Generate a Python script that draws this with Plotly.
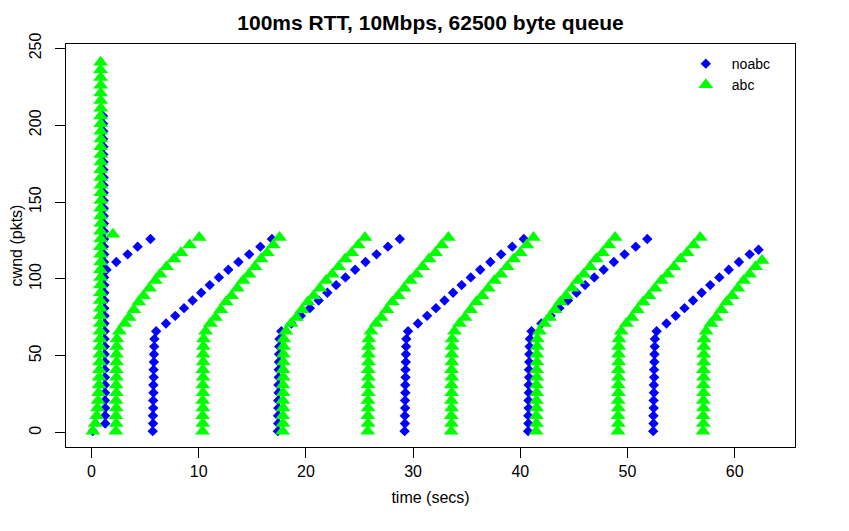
import plotly.graph_objects as go

# ── data: time (s) vs cwnd (pkts) ───────────────────────────────────────────
# noabc (blue diamonds)
noabc_time = [
    # initial slow start
    0.12, 1.28, 1.27, 1.28, 1.26, 1.27, 1.25, 1.26, 1.24, 1.25, 1.23, 1.24, 1.22, 1.23,
    1.21, 1.22, 1.2, 1.21, 1.19, 1.2, 1.18, 1.19, 1.17, 1.18, 1.16, 1.17, 1.15, 1.16,
    1.14, 1.15, 1.13, 1.14, 1.12, 1.13, 1.11, 1.12, 1.1, 1.11, 1.09, 1.1, 1.08, 1.07,
    # after first loss
    1.4, 2.31, 3.37, 4.3, 5.5,
    # cycle 1
    5.71, 5.74, 5.73, 5.76, 5.75, 5.78, 5.77, 5.8, 5.79, 5.82, 5.83, 5.85, 5.87,
    6.03, 6.95, 7.81, 8.63, 9.43, 10.23, 11.03, 11.88, 12.76, 13.71, 14.71, 15.75, 16.83,
    # cycle 2
    17.38, 17.41, 17.4, 17.43, 17.42, 17.45, 17.44, 17.47, 17.46, 17.49, 17.5, 17.52, 17.54,
    17.71, 18.65, 19.53, 20.37, 21.19, 22.0, 22.82, 23.69, 24.59, 25.56, 26.59, 27.65, 28.76,
    # cycle 3
    29.21, 29.24, 29.23, 29.26, 29.25, 29.28, 29.27, 29.3, 29.29, 29.32, 29.33, 29.35, 29.37,
    29.53, 30.45, 31.31, 32.13, 32.93, 33.73, 34.53, 35.38, 36.26, 37.21, 38.21, 39.25, 40.33,
    # cycle 4
    40.73, 40.76, 40.75, 40.78, 40.77, 40.8, 40.79, 40.82, 40.81, 40.84, 40.85, 40.87, 40.89,
    41.05, 41.97, 42.83, 43.65, 44.45, 45.25, 46.05, 46.9, 47.78, 48.73, 49.73, 50.77, 51.85,
    # cycle 5
    52.4, 52.43, 52.42, 52.45, 52.44, 52.47, 52.46, 52.49, 52.48, 52.51, 52.52, 52.54, 52.56,
    52.72, 53.64, 54.5, 55.32, 56.12, 56.92, 57.72, 58.57, 59.45, 60.4, 61.4, 62.23,
]
noabc_cwnd = [
    1, 6, 11, 16, 21, 26, 31, 36, 41, 46, 51, 56, 61, 66,
    71, 76, 81, 86, 91, 96, 101, 106, 111, 116, 121, 126, 131, 136,
    141, 146, 151, 156, 161, 166, 171, 176, 181, 186, 191, 196, 201, 206,
    106, 111, 116, 121, 126,
    1, 6, 11, 16, 21, 26, 31, 36, 41, 46, 51, 56, 61,
    66, 71, 76, 81, 86, 91, 96, 101, 106, 111, 116, 121, 126,
    1, 6, 11, 16, 21, 26, 31, 36, 41, 46, 51, 56, 61,
    66, 71, 76, 81, 86, 91, 96, 101, 106, 111, 116, 121, 126,
    1, 6, 11, 16, 21, 26, 31, 36, 41, 46, 51, 56, 61,
    66, 71, 76, 81, 86, 91, 96, 101, 106, 111, 116, 121, 126,
    1, 6, 11, 16, 21, 26, 31, 36, 41, 46, 51, 56, 61,
    66, 71, 76, 81, 86, 91, 96, 101, 106, 111, 116, 121, 126,
    1, 6, 11, 16, 21, 26, 31, 36, 41, 46, 51, 56, 61,
    66, 71, 76, 81, 86, 91, 96, 101, 106, 111, 116, 119,
]

# abc (green triangles)
abc_time = [
    # initial slow start
    0.12, 0.35, 0.48, 0.56, 0.62, 0.66, 0.7, 0.72, 0.74, 0.76, 0.78, 0.79, 0.8,
    0.8, 0.82, 0.81, 0.83, 0.82, 0.84, 0.83, 0.85, 0.84, 0.86,
    0.85, 0.84, 0.86, 0.85, 0.87, 0.86, 0.85, 0.87, 0.86, 0.88,
    0.87, 0.86, 0.88, 0.87, 0.86, 0.88, 0.87, 0.86, 0.85, 0.87,
    0.86, 0.85, 0.86, 0.85, 0.84, 0.85,
    1.99,
    # cycle 1
    2.27, 2.3, 2.28, 2.31, 2.29, 2.32, 2.3, 2.33, 2.31, 2.34, 2.33, 2.35, 2.37,
    2.6, 3.1, 3.5, 3.95, 4.4, 4.85, 5.4, 5.95, 6.4, 7.0, 7.7, 8.35, 9.15, 10.05,
    # cycle 2
    10.35, 10.38, 10.36, 10.39, 10.37, 10.4, 10.38, 10.41, 10.39, 10.42, 10.41, 10.43, 10.45,
    10.64, 11.09, 11.56, 12.05, 12.55, 13.07, 13.6, 14.14, 14.69, 15.25, 15.82, 16.39, 16.96, 17.54,
    # cycle 3
    17.83, 17.86, 17.84, 17.87, 17.85, 17.88, 17.86, 17.89, 17.87, 17.9, 17.89, 17.91, 17.93,
    18.14, 18.62, 19.12, 19.64, 20.18, 20.73, 21.3, 21.88, 22.46, 23.06, 23.67, 24.28, 24.89, 25.51,
    # cycle 4
    25.77, 25.8, 25.78, 25.81, 25.79, 25.82, 25.8, 25.83, 25.81, 25.84, 25.83, 25.85, 25.87,
    26.07, 26.54, 27.03, 27.55, 28.07, 28.61, 29.17, 29.73, 30.31, 30.89, 31.49, 32.09, 32.68, 33.29,
    # cycle 5
    33.55, 33.58, 33.56, 33.59, 33.57, 33.6, 33.58, 33.61, 33.59, 33.62, 33.61, 33.63, 33.65,
    33.86, 34.34, 34.84, 35.36, 35.9, 36.45, 37.02, 37.6, 38.18, 38.78, 39.39, 40.0, 40.61, 41.23,
    # cycle 6
    41.49, 41.52, 41.5, 41.53, 41.51, 41.54, 41.52, 41.55, 41.53, 41.56, 41.55, 41.57, 41.59,
    41.79, 42.25, 42.73, 43.23, 43.74, 44.27, 44.82, 45.37, 45.93, 46.51, 47.09, 47.67, 48.26, 48.85,
    # cycle 7
    49.11, 49.14, 49.12, 49.15, 49.13, 49.16, 49.14, 49.17, 49.15, 49.18, 49.17, 49.19, 49.21,
    49.42, 49.9, 50.4, 50.92, 51.46, 52.01, 52.58, 53.16, 53.74, 54.34, 54.95, 55.56, 56.17, 56.79,
    # cycle 8
    57.05, 57.08, 57.06, 57.09, 57.07, 57.1, 57.08, 57.11, 57.09, 57.12, 57.11, 57.13, 57.15,
    57.34, 57.79, 58.26, 58.75, 59.25, 59.77, 60.3, 60.84, 61.39, 61.95, 62.55,
]
abc_cwnd = [
    1, 6, 11, 16, 21, 26, 31, 36, 41, 46, 51, 56, 61,
    66, 71, 76, 81, 86, 91, 96, 101, 106, 111,
    116, 121, 126, 131, 136, 141, 146, 151, 156, 161,
    166, 171, 176, 181, 186, 191, 196, 201, 206, 211,
    216, 221, 226, 231, 236, 241,
    129,
    1, 6, 11, 16, 21, 26, 31, 36, 41, 46, 51, 56, 61,
    66, 71, 75, 80, 85, 89, 94, 99, 103, 108, 113, 117, 122, 127,
    1, 6, 11, 16, 21, 26, 31, 36, 41, 46, 51, 56, 61,
    66, 71, 75, 80, 85, 89, 94, 99, 103, 108, 113, 117, 122, 127,
    1, 6, 11, 16, 21, 26, 31, 36, 41, 46, 51, 56, 61,
    66, 71, 75, 80, 85, 89, 94, 99, 103, 108, 113, 117, 122, 127,
    1, 6, 11, 16, 21, 26, 31, 36, 41, 46, 51, 56, 61,
    66, 71, 75, 80, 85, 89, 94, 99, 103, 108, 113, 117, 122, 127,
    1, 6, 11, 16, 21, 26, 31, 36, 41, 46, 51, 56, 61,
    66, 71, 75, 80, 85, 89, 94, 99, 103, 108, 113, 117, 122, 127,
    1, 6, 11, 16, 21, 26, 31, 36, 41, 46, 51, 56, 61,
    66, 71, 75, 80, 85, 89, 94, 99, 103, 108, 113, 117, 122, 127,
    1, 6, 11, 16, 21, 26, 31, 36, 41, 46, 51, 56, 61,
    66, 71, 75, 80, 85, 89, 94, 99, 103, 108, 113, 117, 122, 127,
    1, 6, 11, 16, 21, 26, 31, 36, 41, 46, 51, 56, 61,
    66, 71, 75, 80, 85, 89, 94, 99, 103, 108, 112,
]

x_ticks = [0, 10, 20, 30, 40, 50, 60]
y_ticks = [0, 50, 100, 150, 200, 250]

assert len(noabc_time) == len(noabc_cwnd)
assert len(abc_time) == len(abc_cwnd)

FONT = "Liberation Sans, Arial, Helvetica, sans-serif"

fig = go.Figure()
fig.add_trace(go.Scatter(
    x=noabc_time, y=noabc_cwnd, mode="markers", name="noabc",
    marker=dict(symbol="diamond", size=8, color="#0000FF", line_width=0),
))
fig.add_trace(go.Scatter(
    x=abc_time, y=abc_cwnd, mode="markers", name="abc",
    marker=dict(symbol="triangle-up", size=13, color="#00FF00", line_width=0),
))

axis_style = dict(
    showgrid=False, zeroline=False, automargin=False,
    showline=True, mirror=True, linecolor="black", linewidth=1,
    ticks="outside", ticklen=10, tickwidth=1, tickcolor="black",
    tickfont=dict(size=16, color="black"),
)
fig.update_xaxes(range=[-2.38, 65.63], tickvals=x_ticks,
                 title=dict(text="time (secs)", font=dict(size=16), standoff=12),
                 **axis_style)
fig.update_yaxes(range=[-9.3, 252.8], tickvals=y_ticks, tickangle=-90,
                 ticklabelstandoff=8,
                 title=dict(text="cwnd (pkts)", font=dict(size=16), standoff=3),
                 **axis_style)

# the page body adds an 8px offset, so margins are shifted to compensate
fig.update_layout(
    width=849, height=531,
    margin=dict(l=58, r=62, t=36, b=92),
    paper_bgcolor="white", plot_bgcolor="white",
    font=dict(family=FONT, color="black"),
    title=dict(text="<b>100ms RTT, 10Mbps, 62500 byte queue</b>",
               font=dict(size=21), x=0.5, xref="paper", xanchor="center",
               y=1 - 15 / 531, yref="container", yanchor="middle"),
    legend=dict(x=0.842, y=0.99, xanchor="left", yanchor="top",
                itemwidth=42, bgcolor="rgba(0,0,0,0)", font=dict(size=14)),
)

fig.write_html("out.html")
